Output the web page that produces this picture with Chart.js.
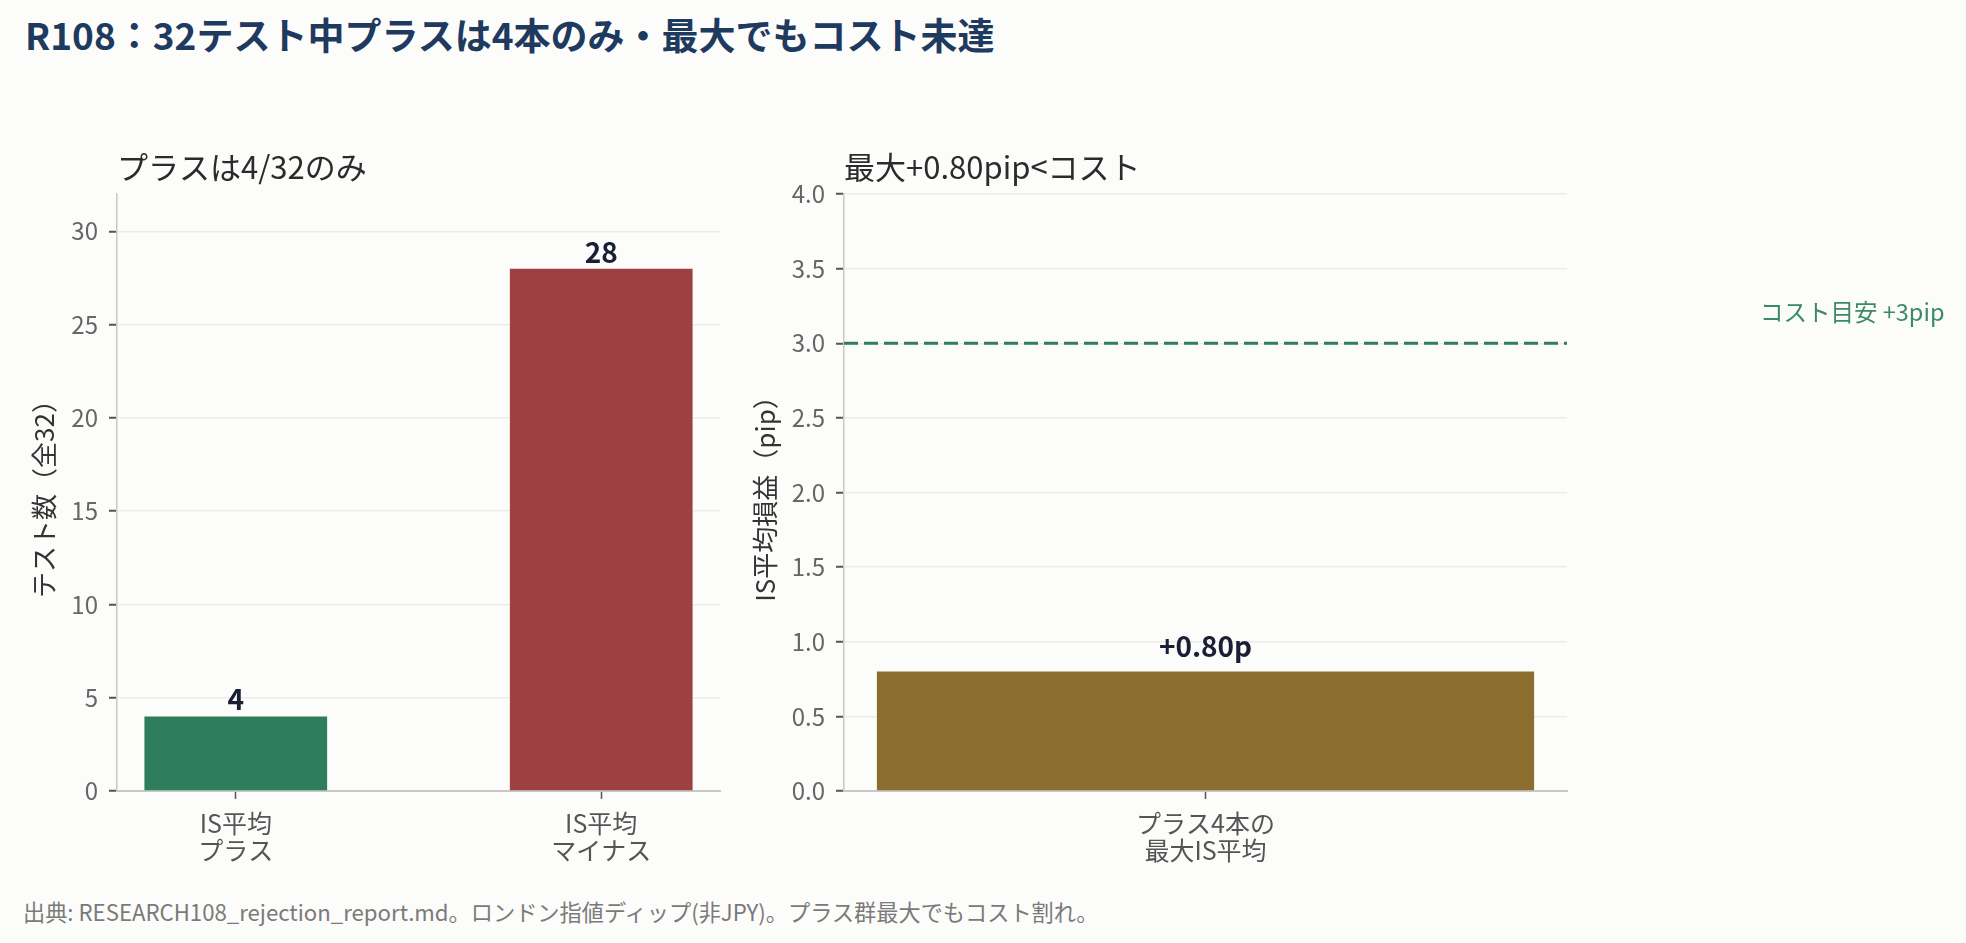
<!DOCTYPE html>
<html lang="ja">
<head>
    <meta charset="UTF-8">
    <title>R108 コスト未達</title>
    <script src="https://cdn.jsdelivr.net/npm/chart.js@4.4.0/dist/chart.umd.min.js"></script>
    <style>
        * {
            margin: 0;
            padding: 0;
            box-sizing: border-box;
        }
        body {
            width: 1966px;
            height: 943px;
            background: #fcfcfa;
            position: relative;
            overflow: hidden;
            font-family: 'Noto Sans CJK JP', 'Noto Sans', sans-serif;
        }
        .title {
            position: absolute;
            left: 25px;
            top: 12px;
            font-size: 37px;
            font-weight: bold;
            color: #1f3a5f;
            line-height: 1.2;
            white-space: nowrap;
        }
        .note {
            position: absolute;
            left: 23px;
            top: 898px;
            font-size: 22.2px;
            color: #7a7a7a;
            line-height: 1.2;
            white-space: nowrap;
        }
        canvas {
            position: absolute;
            top: 100px;
        }
        #countChart { left: 0; }
        #pipChart { left: 740px; }
    </style>
</head>
<body>
    <div class="title">R108：32テスト中プラスは4本のみ・最大でもコスト未達</div>
    <canvas id="countChart" width="740" height="780"></canvas>
    <canvas id="pipChart" width="1226" height="780"></canvas>
    <div class="note">出典: RESEARCH108_rejection_report.md。ロンドン指値ディップ(非JPY)。プラス群最大でもコスト割れ。</div>

    <script>
        // 左: テスト数
        const countCategories = [['IS平均', 'プラス'], ['IS平均', 'マイナス']];
        const countValues = [4, 28];
        const countColors = ['#2e7d5b', '#9e3f42'];
        const countMax = 32;

        // 右: IS平均損益
        const pipCategories = [['プラス4本の', '最大IS平均']];
        const pipValues = [0.80];
        const pipColors = ['#8a6d2f'];
        const pipMax = 4.0;
        const costValue = 3.0;
        const costLabel = 'コスト目安 +3pip';
        const costLabelValue = 3.21;

        const FONT = "'Noto Sans CJK JP', 'Noto Sans', sans-serif";
        Chart.defaults.font.family = FONT;
        Chart.defaults.color = '#666';

        const valueLabels = {
            id: 'valueLabels',
            afterDatasetsDraw(chart, args, opts) {
                const ctx = chart.ctx;
                const ds = chart.data.datasets[0];
                ctx.save();
                ctx.font = 'bold 28px ' + FONT;
                ctx.fillStyle = '#1a1f36';
                ctx.textAlign = 'center';
                ctx.textBaseline = 'alphabetic';
                chart.getDatasetMeta(0).data.forEach((bar, i) => {
                    const d = ds.data[i];
                    const v = typeof d === 'object' ? d.y : d;
                    ctx.fillText(opts.format(v), bar.x, bar.y - opts.gap);
                });
                ctx.restore();
            }
        };

        const costLinePlugin = {
            id: 'costLine',
            afterDatasetsDraw(chart) {
                const { ctx, chartArea, scales } = chart;
                const py = scales.y.getPixelForValue(costValue);
                ctx.save();
                ctx.strokeStyle = '#2e7d5b';
                ctx.lineWidth = 3;
                ctx.setLineDash([14, 6]);
                ctx.beginPath();
                ctx.moveTo(chartArea.left, py);
                ctx.lineTo(chartArea.right, py);
                ctx.stroke();
                ctx.setLineDash([]);
                ctx.font = '23.5px ' + FONT;
                ctx.fillStyle = '#3a8a66';
                ctx.textAlign = 'left';
                ctx.textBaseline = 'middle';
                ctx.fillText(costLabel, chartArea.right + 193, scales.y.getPixelForValue(costLabelValue));
                ctx.restore();
            }
        };

        function yScale(max, step, width, title, titlePad, fmt) {
            return {
                min: 0,
                max: max,
                afterFit: (s) => { s.width = width; },
                border: { display: true, color: '#c8c8c8', width: 1.5 },
                grid: { color: '#ebebeb', lineWidth: 1.5, tickLength: 8, tickColor: '#555', tickWidth: 2 },
                ticks: { stepSize: step, includeBounds: false, padding: 11, color: '#666', font: { size: 24 }, callback: fmt },
                title: { display: true, text: title, color: '#333', font: { size: 26 }, padding: { top: titlePad, bottom: 0 } }
            };
        }

        function subTitle(text) {
            return {
                display: true, text: text, align: 'start', fullSize: false,
                color: '#2b2b2b', font: { size: 31, weight: 'normal' },
                padding: { top: 0, bottom: 8.4 }
            };
        }

        new Chart(document.getElementById('countChart'), {
            type: 'bar',
            data: {
                datasets: [{
                    data: countValues.map((v, i) => ({ x: i, y: v })),
                    backgroundColor: countColors,
                    barPercentage: 0.5,
                    categoryPercentage: 1.0
                }]
            },
            options: {
                responsive: false,
                animation: false,
                layout: { padding: { top: 48.4, right: 20, left: 0, bottom: 0 } },
                plugins: {
                    legend: { display: false },
                    tooltip: { enabled: false },
                    title: subTitle('プラスは4/32のみ'),
                    valueLabels: { gap: 6, format: (v) => String(v) }
                },
                scales: {
                    x: {
                        type: 'linear',
                        min: -0.325,
                        max: countCategories.length - 1 + 0.325,
                        offset: false,
                        afterFit: (s) => { s.height = 89; },
                        afterBuildTicks: (s) => { s.ticks = countCategories.map((c, i) => ({ value: i })); },
                        border: { display: true, color: '#c8c8c8', width: 2 },
                        grid: { offset: false, drawOnChartArea: false, tickLength: 8, tickColor: '#555', tickWidth: 1.5 },
                        ticks: { padding: 10.5, color: '#555', font: { size: 25, lineHeight: 1.1 }, callback: (v) => countCategories[v] }
                    },
                    y: yScale(countMax, 5, 117, 'テスト数（全32）', 29, (v) => v)
                }
            },
            plugins: [valueLabels]
        });

        new Chart(document.getElementById('pipChart'), {
            type: 'bar',
            data: {
                labels: pipCategories,
                datasets: [{
                    data: pipValues,
                    backgroundColor: pipColors,
                    barPercentage: 0.909,
                    categoryPercentage: 1.0
                }]
            },
            options: {
                responsive: false,
                animation: false,
                layout: { padding: { top: 48.4, right: 399, left: 0, bottom: 0 } },
                plugins: {
                    legend: { display: false },
                    tooltip: { enabled: false },
                    title: subTitle('最大+0.80pip<コスト'),
                    valueLabels: { gap: 15, format: (v) => '+' + v.toFixed(2) + 'p' }
                },
                scales: {
                    x: {
                        afterFit: (s) => { s.height = 89; },
                        border: { display: true, color: '#c8c8c8', width: 2 },
                        grid: { offset: false, drawOnChartArea: false, tickLength: 8, tickColor: '#555', tickWidth: 1.5 },
                        ticks: { padding: 10.5, color: '#555', font: { size: 25, lineHeight: 1.1 } }
                    },
                    y: yScale(pipMax, 0.5, 104, 'IS平均損益（pip）', 10, (v) => v.toFixed(1))
                }
            },
            plugins: [valueLabels, costLinePlugin]
        });
    </script>
</body>
</html>
